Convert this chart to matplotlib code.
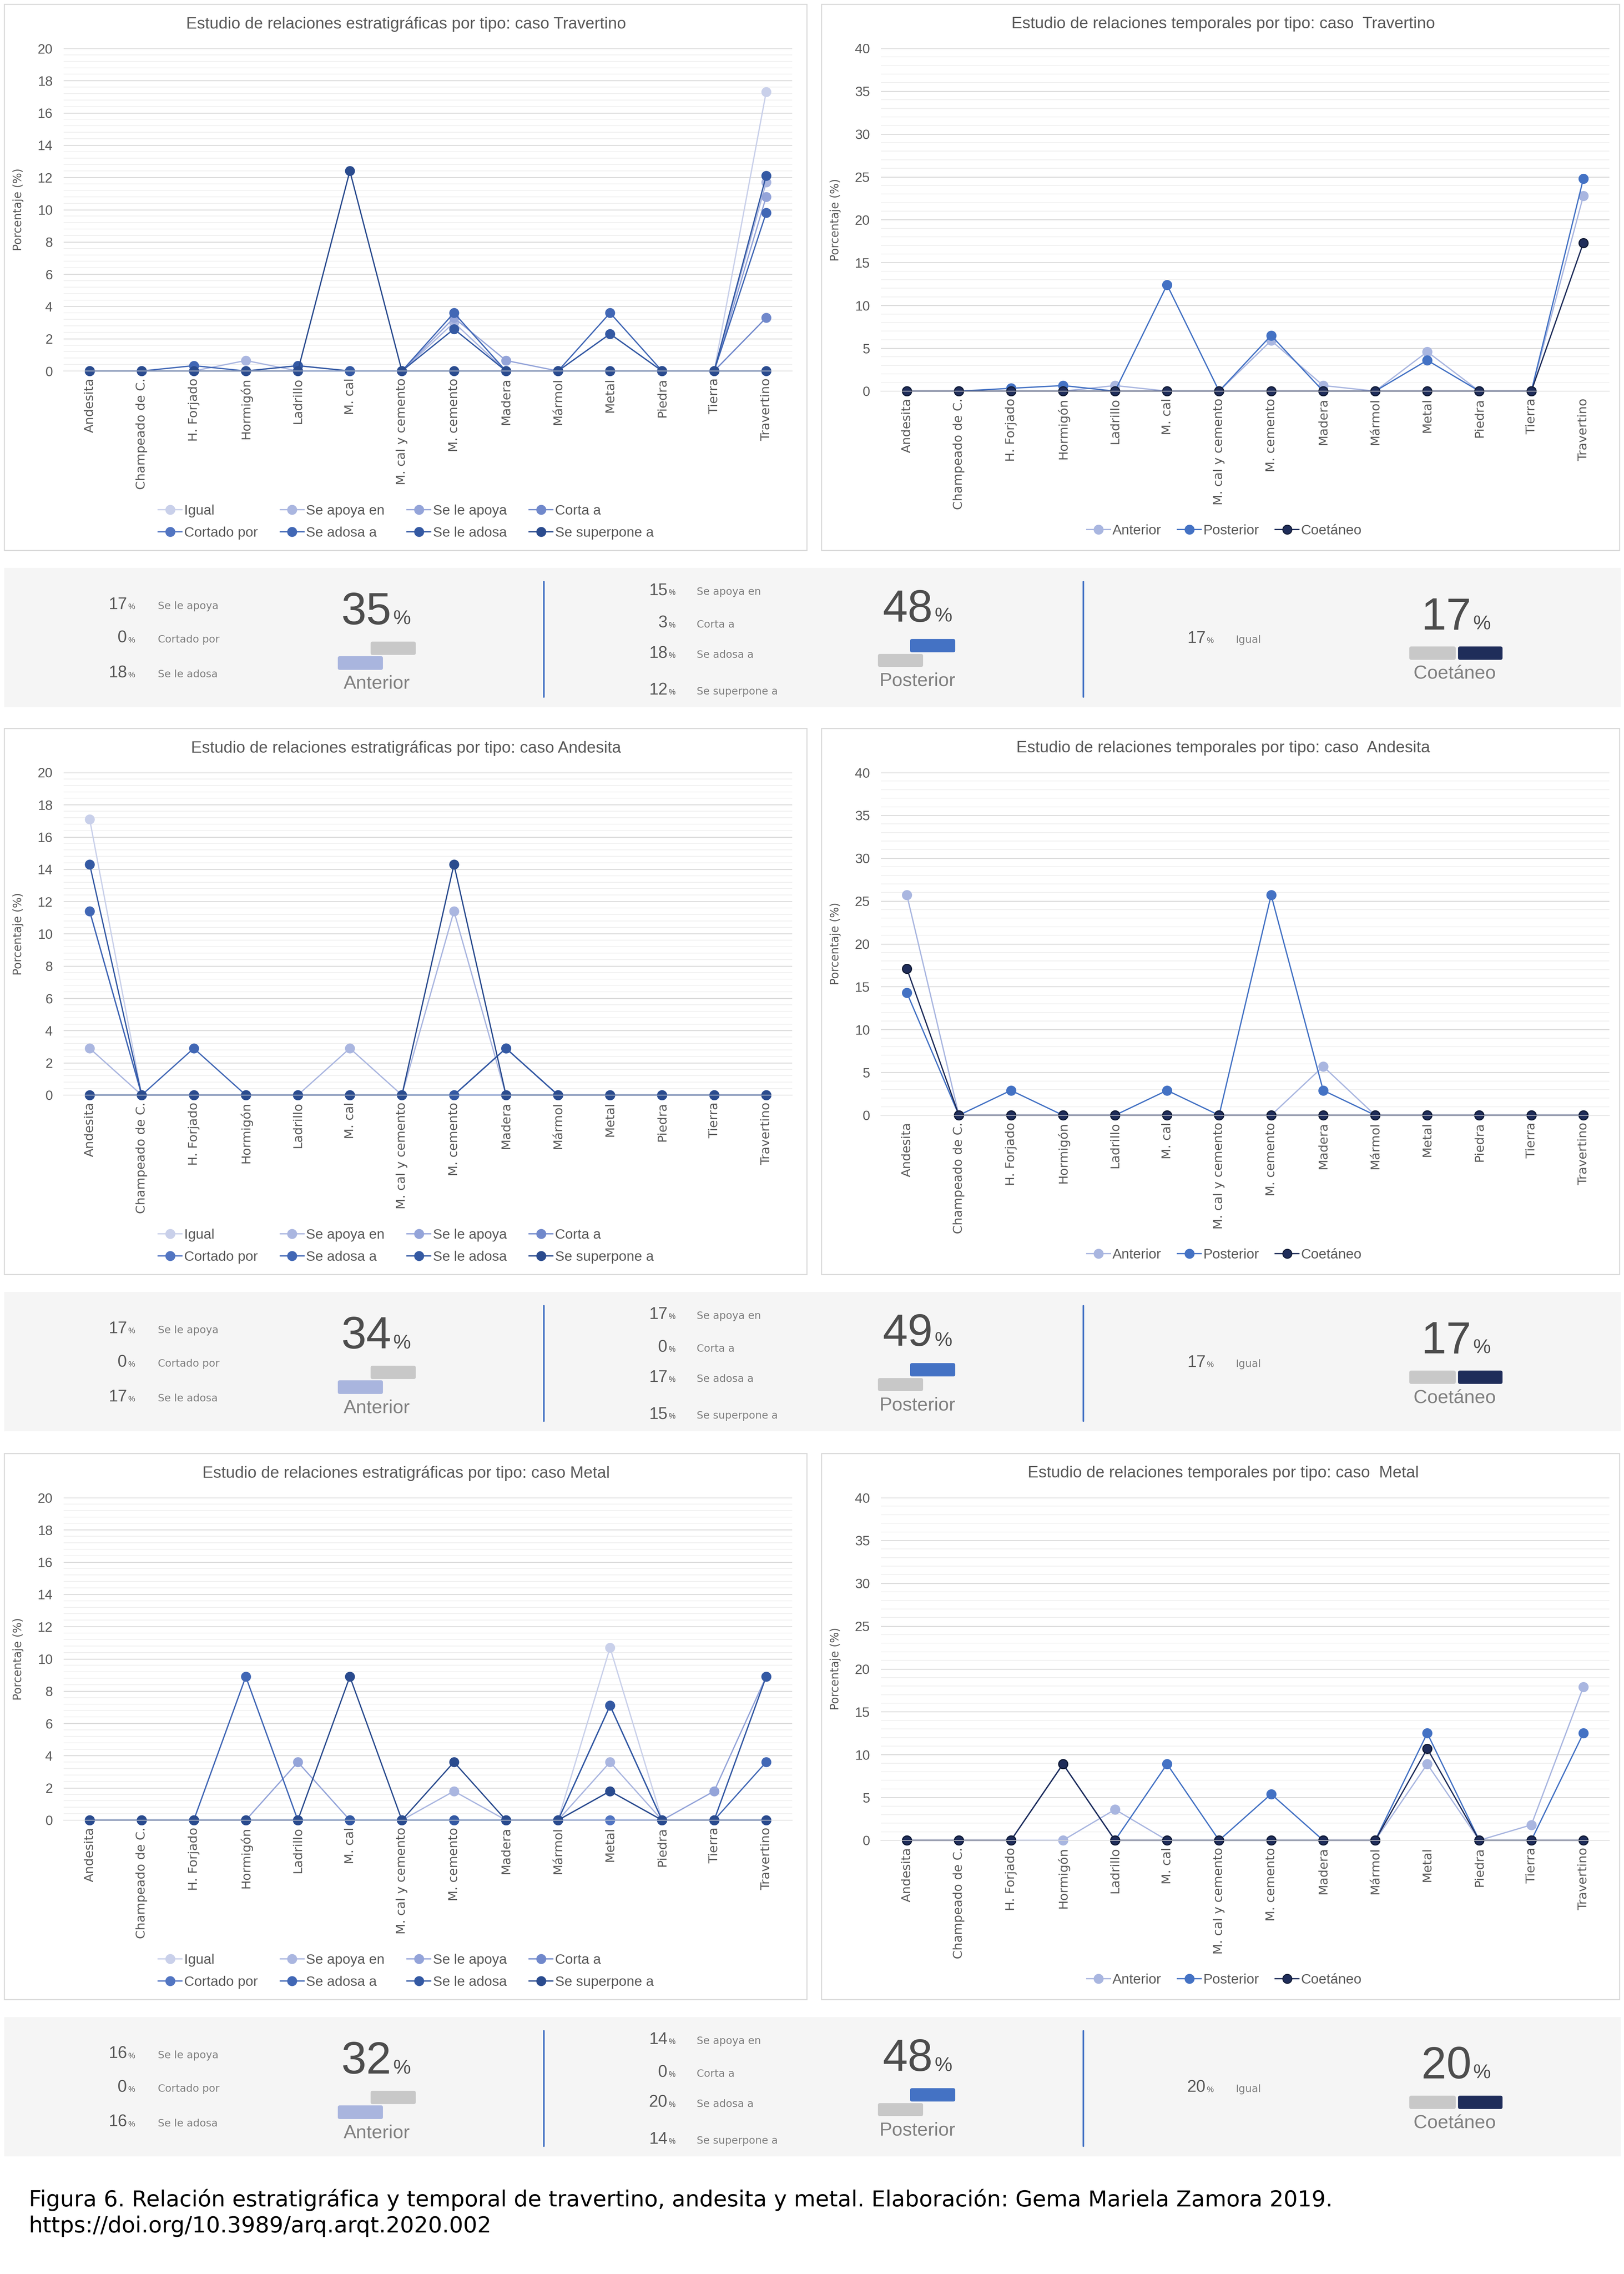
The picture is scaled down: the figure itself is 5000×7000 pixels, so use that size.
import numpy as np
import matplotlib
matplotlib.use("Agg")
import matplotlib.pyplot as plt
from matplotlib.patches import Rectangle, FancyBboxPatch
from matplotlib.lines import Line2D
from matplotlib.ticker import MultipleLocator

W, H = 5000, 7000
DPI = 200

categorias = ["Andesita", "Champeado de C.", "H. Forjado", "Hormigón", "Ladrillo",
              "M. cal", "M. cal y cemento", "M. cemento", "Madera", "Mármol",
              "Metal", "Piedra", "Tierra", "Travertino"]

relaciones = ["Igual", "Se apoya en", "Se le apoya", "Corta a",
              "Cortado por", "Se adosa a", "Se le adosa", "Se superpone a"]
temporales = ["Anterior", "Posterior", "Coetáneo"]

# --- caso Travertino: relaciones estratigraficas (%)
igual_tra     = [0, 0, 0, 0, 0, 0, 0, 0, 0, 0, 0, 0, 0, 17.3]
apoya_en_tra  = [0, 0, 0, 0.65, 0, 0, 0, 3.0, 0, 0, 0, 0, 0, 11.7]
le_apoya_tra  = [0, 0, 0, 0, 0.33, 0, 0, 3.3, 0.65, 0, 2.3, 0, 0, 10.8]
corta_tra     = [0, 0, 0, 0, 0, 0, 0, 0, 0, 0, 0, 0, 0, 3.3]
cortado_tra   = [0, 0, 0, 0, 0, 0, 0, 0, 0, 0, 0, 0, 0, 0]
adosa_tra     = [0, 0, 0.33, 0, 0, 0, 0, 3.6, 0, 0, 3.6, 0, 0, 9.8]
le_adosa_tra  = [0, 0, 0, 0, 0.33, 0, 0, 2.6, 0, 0, 2.3, 0, 0, 12.1]
superpone_tra = [0, 0, 0, 0, 0, 12.4, 0, 0, 0, 0, 0, 0, 0, 0]
# temporales
anterior_tra  = [0, 0, 0, 0, 0.65, 0, 0, 5.9, 0.65, 0, 4.6, 0, 0, 22.8]
posterior_tra = [0, 0, 0.33, 0.65, 0, 12.4, 0, 6.5, 0, 0, 3.6, 0, 0, 24.8]
coetaneo_tra  = [0, 0, 0, 0, 0, 0, 0, 0, 0, 0, 0, 0, 0, 17.3]

# --- caso Andesita
igual_and     = [17.1, 0, 0, 0, 0, 0, 0, 0, 0, 0, 0, 0, 0, 0]
apoya_en_and  = [2.9, 0, 0, 0, 0, 2.9, 0, 11.4, 0, 0, 0, 0, 0, 0]
le_apoya_and  = [11.4, 0, 0, 0, 0, 0, 0, 0, 2.9, 0, 0, 0, 0, 0]
corta_and     = [0, 0, 0, 0, 0, 0, 0, 0, 0, 0, 0, 0, 0, 0]
cortado_and   = [0, 0, 0, 0, 0, 0, 0, 0, 0, 0, 0, 0, 0, 0]
adosa_and     = [11.4, 0, 2.9, 0, 0, 0, 0, 0, 2.9, 0, 0, 0, 0, 0]
le_adosa_and  = [14.3, 0, 0, 0, 0, 0, 0, 0, 2.9, 0, 0, 0, 0, 0]
superpone_and = [0, 0, 0, 0, 0, 0, 0, 14.3, 0, 0, 0, 0, 0, 0]
anterior_and  = [25.7, 0, 0, 0, 0, 0, 0, 0, 5.7, 0, 0, 0, 0, 0]
posterior_and = [14.3, 0, 2.9, 0, 0, 2.9, 0, 25.7, 2.9, 0, 0, 0, 0, 0]
coetaneo_and  = [17.1, 0, 0, 0, 0, 0, 0, 0, 0, 0, 0, 0, 0, 0]

# --- caso Metal
igual_met     = [0, 0, 0, 8.9, 0, 0, 0, 0, 0, 0, 10.7, 0, 0, 0]
apoya_en_met  = [0, 0, 0, 0, 0, 0, 0, 1.8, 0, 0, 3.6, 0, 0, 8.9]
le_apoya_met  = [0, 0, 0, 0, 3.6, 0, 0, 0, 0, 0, 1.8, 0, 1.8, 8.9]
corta_met     = [0, 0, 0, 0, 0, 0, 0, 0, 0, 0, 0, 0, 0, 0]
cortado_met   = [0, 0, 0, 0, 0, 0, 0, 0, 0, 0, 0, 0, 0, 0]
adosa_met     = [0, 0, 0, 8.9, 0, 0, 0, 0, 0, 0, 7.1, 0, 0, 3.6]
le_adosa_met  = [0, 0, 0, 0, 0, 0, 0, 0, 0, 0, 7.1, 0, 0, 8.9]
superpone_met = [0, 0, 0, 0, 0, 8.9, 0, 3.6, 0, 0, 1.8, 0, 0, 0]
anterior_met  = [0, 0, 0, 0, 3.6, 0, 0, 0, 0, 0, 8.9, 0, 1.8, 17.9]
posterior_met = [0, 0, 0, 8.9, 0, 8.9, 0, 5.4, 0, 0, 12.5, 0, 0, 12.5]
coetaneo_met  = [0, 0, 0, 8.9, 0, 0, 0, 0, 0, 0, 10.7, 0, 0, 0]

# resumen (%) de cada caso
casos = ["Travertino", "Andesita", "Metal"]
ant_labels = ["Se le apoya", "Cortado por", "Se le adosa"]
post_labels = ["Se apoya en", "Corta a", "Se adosa a", "Se superpone a"]
ant_vals = [[17, 0, 18], [17, 0, 17], [16, 0, 16]]
post_vals = [[15, 3, 18, 12], [17, 0, 17, 15], [14, 0, 20, 14]]
igual_vals = [17, 17, 20]
tot_anterior = [35, 34, 32]
tot_posterior = [48, 49, 48]
tot_coetaneo = [17, 17, 20]

col_rel = ["#c9d0ea", "#aab6e0", "#94a4d9", "#7088cb", "#5275c2", "#4167b5", "#3459a3", "#2a4b8e"]
col_tmp = ["#a9b6e0", "#4472c4", "#1f2d5a"]
NARROW = ["Liberation Sans", "DejaVu Sans"]
GRIS = "#595959"

fig = plt.figure(figsize=(W / DPI, H / DPI), dpi=DPI)
fig.patch.set_facecolor("white")
bg = fig.add_axes([0, 0, 1, 1])
bg.set_xlim(0, W)
bg.set_ylim(H, 0)
bg.axis("off")


def px_axes(x0, y0, x1, y1):
    a = fig.add_axes([x0 / W, 1 - y1 / H, (x1 - x0) / W, (y1 - y0) / H])
    a.set_facecolor("none")
    return a


def style_axes(ax, ymax, major, minor):
    x = np.arange(len(categorias))
    ax.set_xlim(-0.5, len(categorias) - 0.5)
    ax.set_ylim(0, ymax)
    ax.yaxis.set_major_locator(MultipleLocator(major))
    ax.yaxis.set_minor_locator(MultipleLocator(minor))
    ax.grid(which="major", axis="y", color="#d9d9d9", lw=1.0)
    ax.grid(which="minor", axis="y", color="#eeeeee", lw=0.8)
    ax.set_axisbelow(True)
    for s in ["top", "right", "left"]:
        ax.spines[s].set_visible(False)
    ax.spines["bottom"].set_color("#d9d9d9")
    ax.set_xticks(x)
    ax.set_xticklabels(categorias, rotation=90, fontsize=13.8, color=GRIS)
    ax.tick_params(axis="x", length=0, pad=8)
    ax.tick_params(axis="y", which="both", length=0, pad=12, labelsize=15, labelcolor=GRIS)
    for t in ax.get_yticklabels():
        t.set_family(NARROW)
    ax.set_ylabel("Porcentaje (%)", fontsize=12.5, color=GRIS)
    ax.yaxis.set_label_coords(-0.055, 0.5)


def estrat_chart(dy, caso, series):
    bg.add_patch(Rectangle((13, 13 + dy), 2471, 1681, fc="white", ec="#d9d9d9", lw=1.2))
    bg.text(1250, 74 + dy, "Estudio de relaciones estratigráficas por tipo: caso " + caso,
            ha="center", va="center", fontsize=18, color=GRIS, family=NARROW)
    ax = px_axes(196, 149 + dy, 2439, 1142 + dy)
    x = np.arange(len(categorias))
    handles = []
    for name, vals, c in zip(relaciones, series, col_rel):
        ax.plot(x, vals, "-o", color=c, lw=1.4, ms=10, mec=c, clip_on=False)
        handles.append(Line2D([0], [0], color=c, marker="o", lw=1.4, ms=10, label=name))
    style_axes(ax, 20, 2, 0.4)
    # Excel llena la leyenda por filas
    order = [0, 4, 1, 5, 2, 6, 3, 7]
    leg = ax.legend([handles[i] for i in order], [relaciones[i] for i in order],
                    ncol=4, loc="center", bbox_to_anchor=(1250, 1607 + dy),
                    bbox_transform=bg.transData, frameon=False,
                    handlelength=1.7, handletextpad=0.15, columnspacing=1.6,
                    labelspacing=0.65, prop={"family": NARROW, "size": 15.5})
    for t in leg.get_texts():
        t.set_color(GRIS)


def temp_chart(dy, caso, series):
    bg.add_patch(Rectangle((2529, 13 + dy), 2457, 1681, fc="white", ec="#d9d9d9", lw=1.2))
    bg.text(3766, 74 + dy, "Estudio de relaciones temporales por tipo: caso  " + caso,
            ha="center", va="center", fontsize=18, color=GRIS, family=NARROW)
    ax = px_axes(2712, 149 + dy, 4955, 1204 + dy)
    x = np.arange(len(categorias))
    handles = []
    for name, vals, c in zip(temporales, series, col_tmp):
        mec = "#111a33" if name == "Coetáneo" else c
        ax.plot(x, vals, "-o", color=c, lw=1.4, ms=10, mec=mec, mew=1.2, clip_on=False)
        handles.append(Line2D([0], [0], color=c, marker="o", lw=1.4, ms=10, mec=mec, label=name))
    style_axes(ax, 40, 5, 1)
    leg = ax.legend(handles, temporales, ncol=3, loc="center",
                    bbox_to_anchor=(3769, 1634 + dy), bbox_transform=bg.transData,
                    frameon=False, handlelength=1.7, handletextpad=0.15,
                    columnspacing=1.15, prop={"family": NARROW, "size": 15.5})
    for t in leg.get_texts():
        t.set_color(GRIS)


def rrect(x0, y0, x1, y1, c):
    bg.add_patch(FancyBboxPatch((x0, y0), x1 - x0, y1 - y0,
                                boxstyle="round,pad=0,rounding_size=6", fc=c, ec="none"))


def small_num(xr, yb, val, label, xl):
    bg.text(xr, yb, str(val), ha="right", va="baseline", fontsize=18.5, color=GRIS, family=NARROW)
    bg.text(xr + 3, yb, "%", ha="left", va="baseline", fontsize=8.5, color=GRIS, family=NARROW)
    bg.text(xl, yb, label, ha="left", va="baseline", fontsize=11.5, color="#7f7f7f")


def big_num(xr, yb, val):
    bg.text(xr, yb, str(val), ha="right", va="baseline", fontsize=50, color="#4d4d4d", family=NARROW)
    bg.text(xr + 6, yb, "%", ha="left", va="baseline", fontsize=22, color="#4d4d4d", family=NARROW)


def resumen(dy, k):
    bg.add_patch(Rectangle((13, 1748 + dy), 4977, 429, fc="#f5f5f5", ec="none"))
    for xv in [1674, 3335]:
        bg.plot([xv, xv], [1790 + dy, 2145 + dy], color="#4472c4", lw=1.8, solid_capstyle="round")
    # anterior
    for yb, v, lab in zip([1875, 1978, 2085], ant_vals[k], ant_labels):
        small_num(391, yb + dy, v, lab, 486)
    big_num(1205, 1922 + dy, tot_anterior[k])
    rrect(1141, 1975 + dy, 1280, 2016 + dy, "#c8c8c8")
    rrect(1040, 2020 + dy, 1179, 2062 + dy, "#a9b5de")
    bg.text(1160, 2120 + dy, "Anterior", ha="center", va="baseline", fontsize=21,
            color="#808080", family=NARROW)
    # posterior
    for yb, v, lab in zip([1831, 1932, 2025, 2138], post_vals[k], post_labels):
        small_num(2055, yb + dy, v, lab, 2145)
    big_num(2872, 1914 + dy, tot_posterior[k])
    rrect(2802, 1967 + dy, 2941, 2008 + dy, "#4472c4")
    rrect(2703, 2013 + dy, 2842, 2053 + dy, "#c8c8c8")
    bg.text(2824, 2112 + dy, "Posterior", ha="center", va="baseline", fontsize=21,
            color="#808080", family=NARROW)
    # coetaneo
    small_num(3712, 1979 + dy, igual_vals[k], "Igual", 3805)
    big_num(4530, 1937 + dy, tot_coetaneo[k])
    rrect(4339, 1990 + dy, 4482, 2031 + dy, "#c8c8c8")
    rrect(4489, 1990 + dy, 4626, 2031 + dy, "#1f2d5a")
    bg.text(4479, 2090 + dy, "Coetáneo", ha="center", va="baseline", fontsize=21,
            color="#808080", family=NARROW)


datos_estrat = [
    [igual_tra, apoya_en_tra, le_apoya_tra, corta_tra, cortado_tra, adosa_tra, le_adosa_tra, superpone_tra],
    [igual_and, apoya_en_and, le_apoya_and, corta_and, cortado_and, adosa_and, le_adosa_and, superpone_and],
    [igual_met, apoya_en_met, le_apoya_met, corta_met, cortado_met, adosa_met, le_adosa_met, superpone_met],
]
datos_temp = [
    [anterior_tra, posterior_tra, coetaneo_tra],
    [anterior_and, posterior_and, coetaneo_and],
    [anterior_met, posterior_met, coetaneo_met],
]

offsets = [0, 2229, 4461]
for k, (caso, dy) in enumerate(zip(casos, offsets)):
    estrat_chart(dy, caso, datos_estrat[k])
    temp_chart(dy, caso, datos_temp[k])
    resumen(dy, k)

bg.text(89, 6772, "Figura 6. Relación estratigráfica y temporal de travertino, andesita y metal. "
        "Elaboración: Gema Mariela Zamora 2019.", ha="left", va="center", fontsize=24.5, color="black")
bg.text(89, 6853, "https://doi.org/10.3989/arq.arqt.2020.002", ha="left", va="center",
        fontsize=24.5, color="black")

fig.savefig("out.png", dpi=DPI, facecolor="white")
